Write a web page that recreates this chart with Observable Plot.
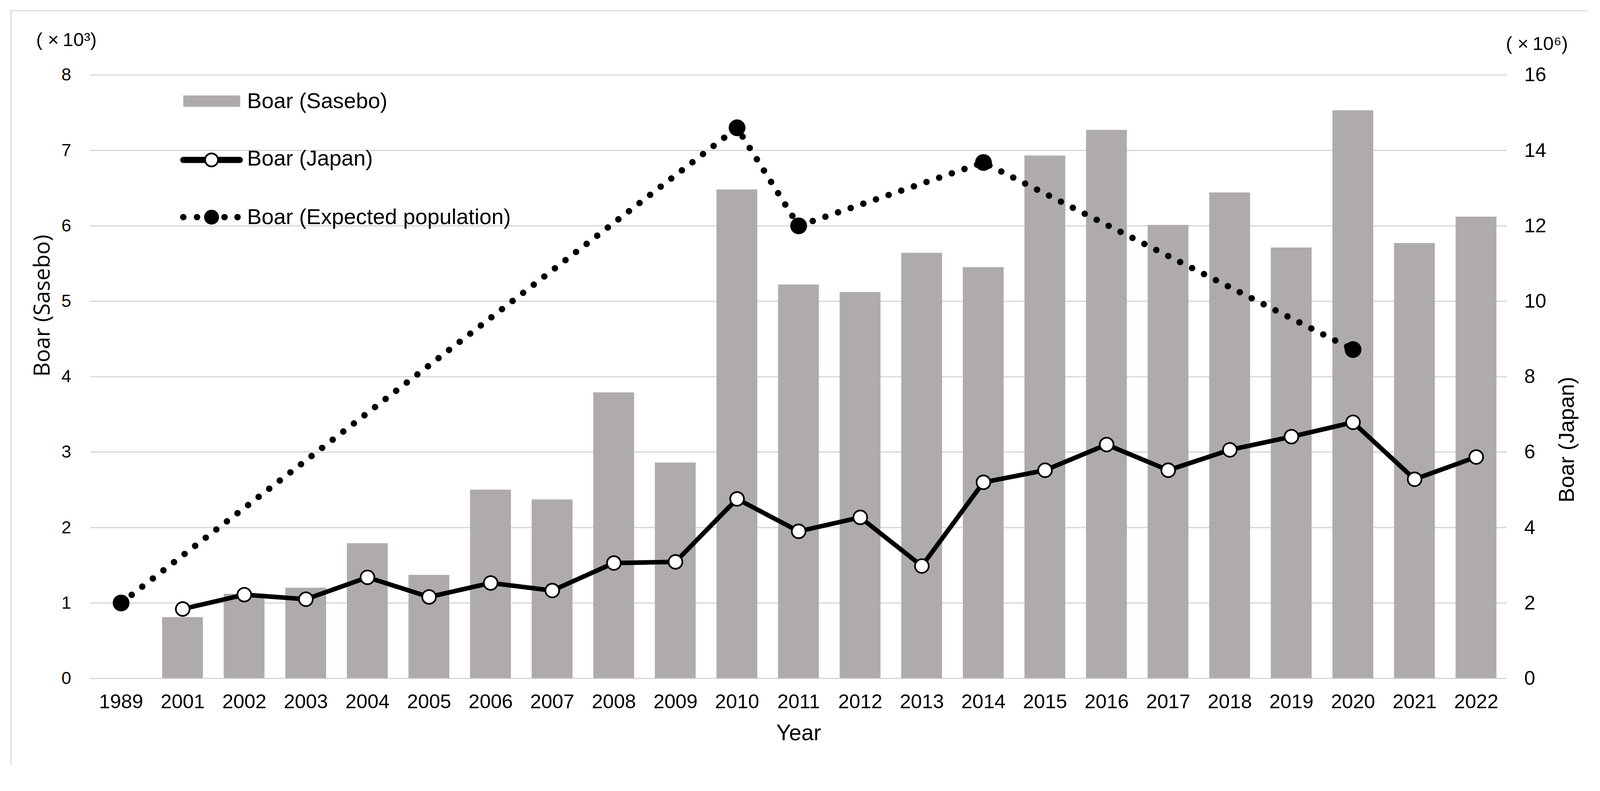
<!DOCTYPE html>
<html>
<head>
<meta charset="utf-8">
<script src="https://cdn.jsdelivr.net/npm/d3@7"></script>
<script src="https://cdn.jsdelivr.net/npm/@observablehq/plot@0.6"></script>
<style>
  html, body { margin: 0; padding: 0; background: #fff; overflow: hidden; }
  #chart svg { display: block; }
</style>
</head>
<body>
<div id="chart"></div>
<script>
// ---- data ----
const years = ["1989","2001","2002","2003","2004","2005","2006","2007","2008","2009","2010",
               "2011","2012","2013","2014","2015","2016","2017","2018","2019","2020","2021","2022"];
// Boar captured in Sasebo (x10^3), left axis
const sasebo = [null, 0.81, 1.12, 1.20, 1.79, 1.37, 2.50, 2.37, 3.79, 2.86, 6.48,
                5.22, 5.12, 5.64, 5.45, 6.93, 7.27, 6.01, 6.44, 5.71, 7.53, 5.77, 6.12];
// Boar captured in Japan (x10^6 on the right axis scale)
const japan = [null, 1.84, 2.22, 2.10, 2.68, 2.16, 2.53, 2.33, 3.06, 3.09, 4.76,
               3.90, 4.27, 2.98, 5.20, 5.52, 6.20, 5.52, 6.06, 6.41, 6.79, 5.28, 5.87];
// Expected population (drawn against the left axis)
const expYears = ["1989","2010","2011","2014","2020"];
const expValues = [1.00, 7.30, 6.00, 6.84, 4.36];
// axis ticks
const leftTicks = [0,1,2,3,4,5,6,7,8];
const leftTickLabels = ["0","1","2","3","4","5","6","7","8"];
const rightTickLabels = ["0","2","4","6","8","10","12","14","16"];
const seriesNames = ["Boar (Sasebo)", "Boar (Japan)", "Boar (Expected population)"];

// ---- tables ----
const saseboRows = years.map((y, i) => ({year: y, v: sasebo[i]})).filter(d => d.v != null);
const japanRows = years.map((y, i) => ({year: y, v: japan[i]})).filter(d => d.v != null);
const expRows = expYears.map((y, i) => ({year: y, v: expValues[i]}));
const rightRatio = 16 / 8; // right axis units per left axis unit

const FONT = "'Liberation Sans', Arial, Helvetica, sans-serif";

const chart = Plot.plot({
  width: 4190,
  height: 2026,
  marginLeft: 236,
  marginRight: 244,
  marginTop: 196,
  marginBottom: 249,
  style: {fontFamily: FONT, background: "#ffffff", color: "#000000", overflow: "visible"},
  x: {type: "band", domain: years, paddingInner: 0.337, paddingOuter: 0.1685, round: false, axis: null, label: null},
  y: {domain: [0, 8], axis: null, label: null},
  marks: [
    Plot.ruleY(leftTicks, {stroke: "#d9d9d9", strokeWidth: 3.5}),
    Plot.barY(saseboRows, {x: "year", y: "v", fill: "#afabab"}),
    Plot.line(expRows, {x: "year", y: "v", stroke: "#000", strokeWidth: 17,
                        strokeDasharray: "0 35", strokeLinecap: "round"}),
    Plot.dot(expRows, {x: "year", y: "v", r: 22, fill: "#000", stroke: null}),
    Plot.line(japanRows, {x: "year", y: d => d.v / rightRatio, stroke: "#000", strokeWidth: 12,
                          strokeLinejoin: "round"}),
    Plot.dot(japanRows, {x: "year", y: d => d.v / rightRatio, r: 18, fill: "#fff",
                         stroke: "#000", strokeWidth: 4.5}),
    Plot.axisY(leftTicks, {anchor: "left", tickSize: 0, tickPadding: 50, fontSize: 46, label: null,
                           tickFormat: d => leftTickLabels[leftTicks.indexOf(d)]}),
    Plot.axisY(leftTicks, {anchor: "right", tickSize: 0, tickPadding: 45, fontSize: 52, label: null,
                           tickFormat: d => rightTickLabels[leftTicks.indexOf(d)]}),
    Plot.axisX({tickSize: 0, tickPadding: 41, fontSize: 52, label: null}),
    Plot.text(["Year"], {frameAnchor: "bottom", dy: 121, lineAnchor: "top", fontSize: 58}),
    Plot.text(["Boar (Sasebo)"], {frameAnchor: "left", dx: -107, rotate: -90, lineAnchor: "bottom",
                                  fontSize: 58, fontFamily: "'Open Sans', " + FONT}),
    Plot.text(["Boar (Japan)"], {frameAnchor: "right", dx: 175, rotate: -90, lineAnchor: "bottom",
                                 fontSize: 57}),
    Plot.text(["( ×\u200910³)"], {frameAnchor: "top-left", dx: -142, dy: -76, textAnchor: "start",
                                  lineAnchor: "bottom", fontSize: 50}),
    Plot.text(["( ×\u200910⁶)"], {frameAnchor: "top-right", dx: -3, dy: -66, textAnchor: "start",
                                  lineAnchor: "bottom", fontSize: 50})
  ]
});

// ---- chart-area border (left and top edges) and legend ----
const svg = d3.select(chart);
svg.insert("path", ":first-child")
  .attr("d", "M29,2005V28H4158")
  .attr("fill", "none").attr("stroke", "#d9d9d9").attr("stroke-width", 3);

const lg = svg.append("g").attr("font-family", FONT).attr("font-size", 57)
  .attr("fill", "#000").attr("text-anchor", "start");
// row 1: bars
lg.append("rect").attr("x", 480).attr("y", 250).attr("width", 149).attr("height", 30).attr("fill", "#afabab");
lg.append("text").attr("x", 647).attr("y", 283).attr("text-anchor", "start").text(seriesNames[0]);
// row 2: Japan line
lg.append("line").attr("x1", 480).attr("x2", 628).attr("y1", 419).attr("y2", 419)
  .attr("stroke", "#000").attr("stroke-width", 16).attr("stroke-linecap", "round");
lg.append("circle").attr("cx", 554).attr("cy", 419).attr("r", 17)
  .attr("fill", "#fff").attr("stroke", "#000").attr("stroke-width", 4.5);
lg.append("text").attr("x", 647).attr("y", 434).attr("text-anchor", "start").text(seriesNames[1]);
// row 3: expected population
[[480, 8.5], [516, 8.5], [554, 19.5], [588, 8.5], [622, 8.5]].forEach(([cx, r]) => {
  lg.append("circle").attr("cx", cx).attr("cy", 569).attr("r", r).attr("fill", "#000");
});
lg.append("text").attr("x", 647).attr("y", 587).attr("text-anchor", "start").text(seriesNames[2]);

document.getElementById("chart").appendChild(chart);
</script>
</body>
</html>
